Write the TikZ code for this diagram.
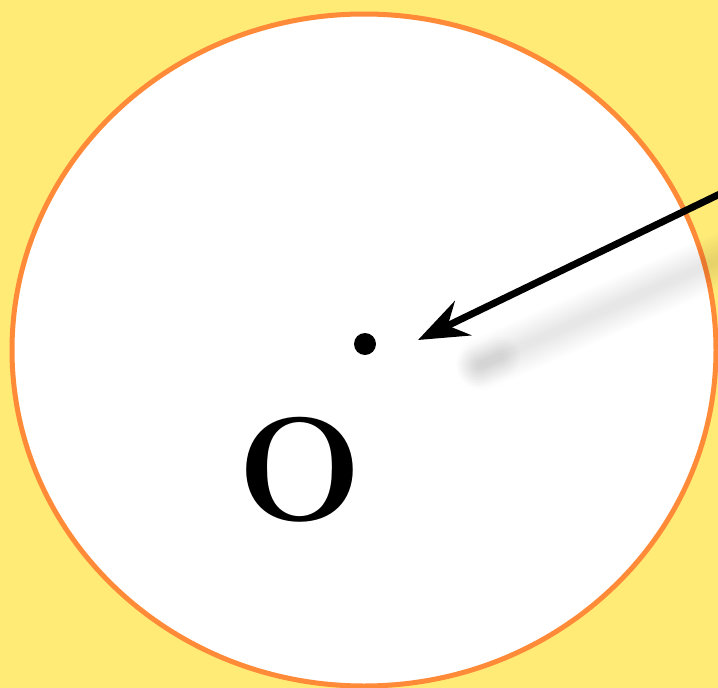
\documentclass[tikz,border=0pt]{standalone}
\usepackage{tikz}
\usetikzlibrary{arrows.meta, positioning, shapes.geometric}
\usepackage{xcolor}
\definecolor{bgyellow}{HTML}{FFEB76}
\definecolor{rimorange}{HTML}{FF8A38}

\begin{document}
\begin{tikzpicture}[
    x=1pt, y=-1pt,
    disc/.style={
        ellipse,
        draw=rimorange,
        fill=white,
        line width=5pt,
        minimum width=704pt,
        minimum height=672pt,
        inner sep=0pt
    },
    centre/.style={
        circle,
        fill=black,
        minimum size=22pt,
        inner sep=0pt
    },
    letter/.style={
        font=\bfseries\fontsize{148}{150}\selectfont
    },
    arrow/.style={-{Stealth[length=50pt, width=38pt, inset=17pt]}, line width=7pt}
]

% Background and clip
\fill[bgyellow] (0,0) rectangle (718,688);
\clip (0,0) rectangle (718,688);

% Disc with centre
\node[disc] (disc) at (364,350) {};
\node[centre] (o) at (365,344) {};
\node[letter] (olabel) at (300,470) {O};

% Soft shadow of the arrow
\foreach \w in {52,48,44,40,36,32,28,24,20,16,12,8} {
    \draw[black, opacity=0.008, line width=\w pt, line cap=round] (482,364) -- (760,242);
}
\foreach \w in {40,34,28,22,16,10} {
    \draw[black, opacity=0.012, line width=\w pt, line cap=round] (478,366) -- (500,357);
}

% Arrow from outside
\coordinate (src) at (724,192);
\coordinate (tip) at (418,340);
\draw[arrow] (src) -- (tip);

\end{tikzpicture}
\end{document}
